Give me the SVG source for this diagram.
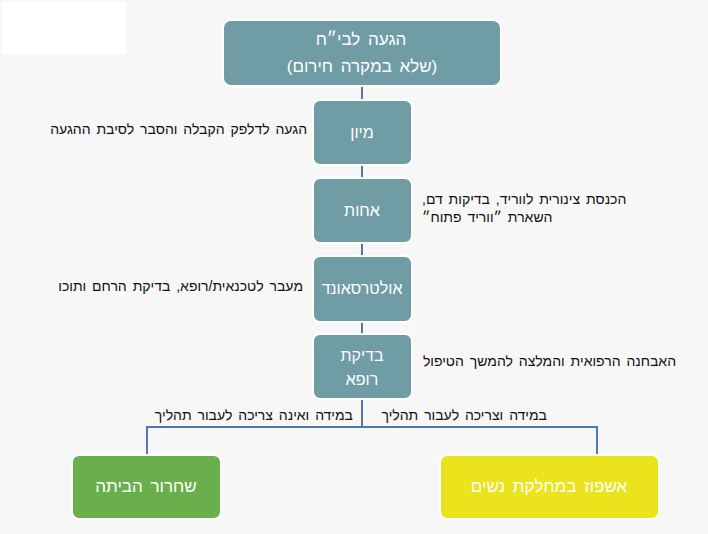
<svg xmlns="http://www.w3.org/2000/svg" width="708" height="534" viewBox="0 0 708 534">
<style>
.node rect{fill:#6f9ca5;stroke:#ffffff;stroke-width:2}
.nt{fill:#ffffff;font-family:"Liberation Sans","DejaVu Sans",sans-serif;font-size:16px;text-anchor:middle;direction:rtl}
.big{font-size:17px;word-spacing:3px}
.st{fill:#111111;font-family:"Liberation Sans","DejaVu Sans",sans-serif;font-size:14px;word-spacing:2px;direction:rtl}
.conn{stroke:#4f78b0;stroke-width:2;fill:none}
</style>
<rect width="708" height="534" fill="#f7f7f7"/>
<rect x="2" y="2" width="124" height="52" fill="#ffffff"/>
<g id="connectors">
<path class="conn" d="M362 86V427M147 455V427H597V455"/>
</g>
<g id="n-arrival" class="node">
<rect x="223" y="20" width="278" height="66" rx="8"/>
<text class="nt big" x="361" y="45">הגעה לבי״ח</text>
<text class="nt big" x="362" y="72">(שלא במקרה חירום)</text>
</g>
<g id="n-sort" class="node">
<rect x="313" y="100" width="99" height="65" rx="7"/>
<text class="nt" x="362" y="138">מיון</text>
</g>
<g id="n-nurse" class="node">
<rect x="313" y="178" width="99" height="65" rx="7"/>
<text class="nt" x="362" y="216">אחות</text>
</g>
<g id="n-us" class="node">
<rect x="313" y="256" width="99" height="66" rx="7"/>
<text class="nt" x="362" y="294">אולטרסאונד</text>
</g>
<g id="n-doctor" class="node">
<rect x="313" y="334" width="99" height="65" rx="7"/>
<text class="nt" x="362" y="361">בדיקת</text>
<text class="nt" x="362" y="385">רופא</text>
</g>
<g id="n-home" class="node">
<rect x="72" y="455" width="149" height="64" rx="7" style="fill:#69b04d"/>
<text class="nt big" x="146" y="492">שחרור הביתה</text>
</g>
<g id="n-admit" class="node">
<rect x="440" y="455" width="219" height="64" rx="7" style="fill:#ebe31c"/>
<text class="nt big" x="549" y="492">אשפוז במחלקת נשים</text>
</g>
<g id="labels">
<text class="st" x="307" y="134" text-anchor="start">הגעה לדלפק הקבלה והסבר לסיבת ההגעה</text>
<text class="st" x="422" y="204" text-anchor="end">הכנסת צינורית לווריד, בדיקות דם,</text>
<text class="st" x="422" y="222" text-anchor="end">השארת ״ווריד פתוח״</text>
<text class="st" x="303" y="291" text-anchor="start">מעבר לטכנאית/רופא, בדיקת הרחם ותוכו</text>
<text class="st" x="676" y="366" text-anchor="start">האבחנה הרפואית והמלצה להמשך הטיפול</text>
<text class="st" x="353" y="420" text-anchor="start">במידה ואינה צריכה לעבור תהליך</text>
<text class="st" x="547" y="420" text-anchor="start">במידה וצריכה לעבור תהליך</text>
</g>
</svg>
